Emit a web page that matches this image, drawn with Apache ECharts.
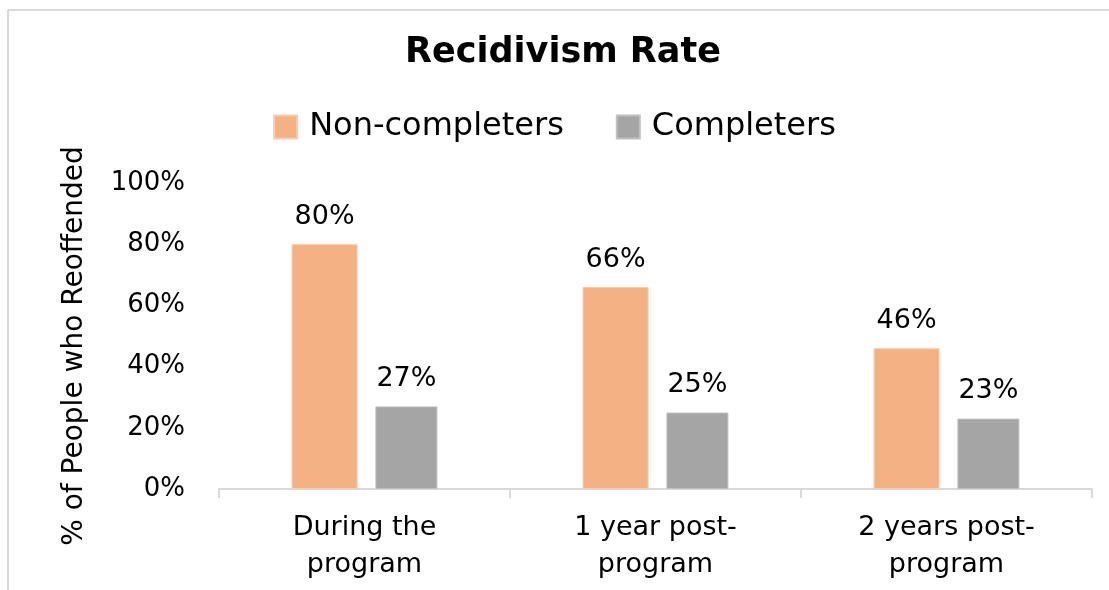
<!DOCTYPE html>
<html>
<head>
<meta charset="utf-8">
<script src="https://cdn.jsdelivr.net/npm/echarts@6/dist/echarts.min.js"></script>
<style>
  html, body { margin: 0; padding: 0; background: #fff; }
  #chart { width: 1109px; height: 590px; }
</style>
</head>
<body>
<div id="chart"></div>
<script>
// Recidivism rate by stage, for people who did and did not complete the program
const categories = ['During the\nprogram', '1 year post-\nprogram', '2 years post-\nprogram'];
const nonCompleters = [80, 66, 46];
const completers = [27, 25, 23];
const yTicks = [0, 20, 40, 60, 80, 100];

const FONT = '"DejaVu Sans", "Open Sans", sans-serif';
const chart = echarts.init(document.getElementById('chart'), null, { renderer: 'canvas' });

chart.setOption({
  animation: false,
  backgroundColor: '#ffffff',
  textStyle: { fontFamily: FONT, color: '#000' },
  title: {
    text: 'Recidivism Rate',
    left: 558,
    textAlign: 'center',
    top: 30,
    textStyle: { fontFamily: FONT, fontSize: 35, fontWeight: 'bold', color: '#000' }
  },
  legend: {
    top: 106,
    left: 'center',
    itemWidth: 23,
    itemHeight: 23,
    itemGap: 52,
    icon: 'rect',
    textStyle: { fontFamily: FONT, fontSize: 32, color: '#000', padding: [0, 0, 0, 7] },
    data: ['Non-completers', 'Completers']
  },
  grid: { left: 219, right: 17, top: 183, bottom: 101, containLabel: false },
  xAxis: {
    type: 'category',
    data: categories,
    axisLine: { lineStyle: { color: '#d9d9d9', width: 2 } },
    axisTick: { show: true, length: 9, lineStyle: { color: '#d9d9d9', width: 2 } },
    axisLabel: { fontFamily: FONT, fontSize: 27, color: '#000', lineHeight: 37, margin: 20 }
  },
  yAxis: {
    type: 'value',
    min: yTicks[0],
    max: yTicks[yTicks.length - 1],
    interval: yTicks[1] - yTicks[0],
    name: '% of People who Reoffended',
    nameLocation: 'middle',
    nameGap: 130,
    nameTextStyle: { fontFamily: FONT, fontSize: 28, color: '#000', padding: [0, 20, 0, 0] },
    axisLine: { show: false },
    axisTick: { show: false },
    splitLine: { show: false },
    axisLabel: { fontFamily: FONT, fontSize: 26, color: '#000', margin: 34, formatter: '{value}%' }
  },
  series: [
    {
      name: 'Non-completers',
      type: 'bar',
      data: nonCompleters,
      barWidth: 66,
      barGap: '27%',
      itemStyle: { color: '#f4b183', borderColor: '#f8cbad', borderWidth: 1 },
      label: { show: true, position: 'top', distance: 14, fontFamily: FONT, fontSize: 27, color: '#000', formatter: '{c}%' }
    },
    {
      name: 'Completers',
      type: 'bar',
      data: completers,
      barWidth: 62,
      barGap: '27%',
      itemStyle: { color: '#a5a5a5', borderColor: '#c0c0c0', borderWidth: 1 },
      label: { show: true, position: 'top', distance: 14, fontFamily: FONT, fontSize: 27, color: '#000', formatter: '{c}%' }
    }
  ],
  graphic: [
    // chart frame edges (top and left)
    { type: 'line', shape: { x1: 8, y1: 10, x2: 1109, y2: 10 }, style: { stroke: '#d9d9d9', lineWidth: 2 } },
    { type: 'line', shape: { x1: 8, y1: 10, x2: 8, y2: 590 }, style: { stroke: '#d9d9d9', lineWidth: 2 } }
  ]
});
</script>
</body>
</html>
